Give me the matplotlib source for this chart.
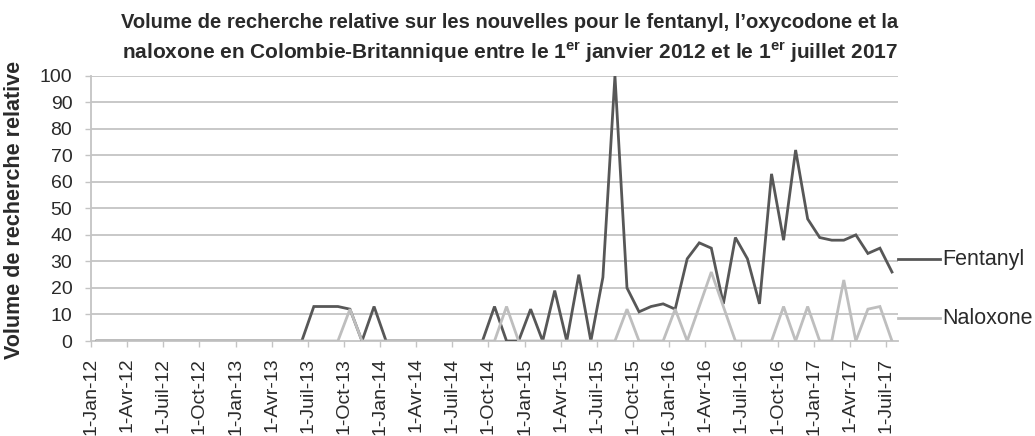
import numpy as np
import matplotlib
matplotlib.use("Agg")
import matplotlib.pyplot as plt
from matplotlib.lines import Line2D

# Monthly relative search volume, Jan 2012 .. Jul 2017 (67 months)
fentanyl_2012 = [0, 0, 0, 0, 0, 0, 0, 0, 0, 0, 0, 0]
fentanyl_2013 = [0, 0, 0, 0, 0, 0, 13, 13, 13, 12, 0, 13]
fentanyl_2014 = [0, 0, 0, 0, 0, 0, 0, 0, 0, 13, 0, 0]
fentanyl_2015 = [12, 0, 19, 0, 25, 0, 24, 100, 20, 11, 13, 14]
fentanyl_2016 = [12, 31, 37, 35, 14, 39, 31, 14, 63, 38, 72, 46]
fentanyl_2017 = [39, 38, 38, 40, 33, 35, 26]

naloxone_2012 = [0, 0, 0, 0, 0, 0, 0, 0, 0, 0, 0, 0]
naloxone_2013 = [0, 0, 0, 0, 0, 0, 0, 0, 0, 12, 0, 0]
naloxone_2014 = [0, 0, 0, 0, 0, 0, 0, 0, 0, 0, 13, 0]
naloxone_2015 = [0, 0, 0, 0, 0, 0, 0, 0, 12, 0, 0, 0]
naloxone_2016 = [12, 0, 13, 26, 13, 0, 0, 0, 0, 13, 0, 13]
naloxone_2017 = [0, 0, 23, 0, 12, 13, 0]

fentanyl = (fentanyl_2012 + fentanyl_2013 + fentanyl_2014 + fentanyl_2015
            + fentanyl_2016 + fentanyl_2017)
naloxone = (naloxone_2012 + naloxone_2013 + naloxone_2014 + naloxone_2015
            + naloxone_2016 + naloxone_2017)

tick_labels = ["1-Jan-12", "1-Avr-12", "1-Juil-12", "1-Oct-12",
               "1-Jan-13", "1-Avr-13", "1-Juil-13", "1-Oct-13",
               "1-Jan-14", "1-Avr-14", "1-Juil-14", "1-Oct-14",
               "1-Jan-15", "1-Avr-15", "1-Juil-15", "1-Oct-15",
               "1-Jan-16", "1-Avr-16", "1-Juil-16", "1-Oct-16",
               "1-Jan-17", "1-Avr-17", "1-Juil-17"]
series_names = ["Fentanyl", "Naloxone"]
y_ticks = [0, 10, 20, 30, 40, 50, 60, 70, 80, 90, 100]

title_line1 = "Volume de recherche relative sur les nouvelles pour le fentanyl, l\u2019oxycodone et la"
title_line2 = (r"naloxone en Colombie-Britannique entre le 1$^{\mathrm{er}}$ "
               r"janvier 2012 et le 1$^{\mathrm{er}}$ juillet 2017")
y_label = "Volume de recherche relative"

plt.rcParams['font.family'] = ['Liberation Sans', 'DejaVu Sans']
plt.rcParams['mathtext.fontset'] = 'custom'
plt.rcParams['mathtext.rm'] = 'Liberation Sans:bold'
plt.rcParams['mathtext.it'] = 'Liberation Sans:bold'
plt.rcParams['mathtext.bf'] = 'Liberation Sans:bold'

W, H = 1035, 436
fig = plt.figure(figsize=(W / 100, H / 100), dpi=100)
ax_l, ax_r, ax_t, ax_b = 91, 898, 75.7, 341
ax = fig.add_axes([ax_l / W, 1 - ax_b / H, (ax_r - ax_l) / W, (ax_b - ax_t) / H])

n = len(fentanyl)
x = np.arange(n) + 0.5

grid_c = "#c4c4c4"
dark = "#575757"
light = "#bebebe"
txt = "#2a2a2a"

for yv in y_ticks[1:]:
    ax.axhline(yv, color=grid_c, lw=1.3, zorder=1)

ax.plot(x, fentanyl, color=dark, lw=2.0, zorder=3, solid_joinstyle='miter')
ax.plot(x, naloxone, color=light, lw=2.0, zorder=4, solid_joinstyle='miter')

ax.set_xlim(0, n)
ax.set_ylim(0, 100)
ax.set_yticks(y_ticks)
ax.set_yticklabels([str(v) for v in y_ticks])
ax.set_xticks(np.arange(0, n, 3))
ax.set_xticklabels(tick_labels, rotation=90)

for s in ["top", "right"]:
    ax.spines[s].set_visible(False)
ax.spines["left"].set_color(grid_c)
ax.spines["left"].set_linewidth(1.3)
ax.spines["bottom"].set_color(grid_c)
ax.spines["bottom"].set_linewidth(1.3)
ax.spines["bottom"].set_zorder(2)

ax.tick_params(axis='y', length=4.5, width=1.0, color=grid_c, pad=9,
               labelsize=14, labelcolor=txt)
ax.tick_params(axis='x', length=4, width=1.0, color=grid_c, pad=8,
               labelsize=14, labelcolor=txt)

fig.text(15 / W, 1 - 210 / H, y_label, rotation=90, ha='center', va='center',
         fontsize=15.5, fontweight='bold', color=txt)

fig.text(510 / W, 1 - 22 / H, title_line1, ha='center', va='center',
         fontsize=14.5, fontweight='bold', color=txt)
fig.text(510 / W, 1 - 53 / H, title_line2, ha='center', va='center',
         fontsize=15.0, fontweight='bold', color=txt)

# legend
leg_y = [259, 318]
leg_c = [dark, light]
for name, yy, c in zip(series_names, leg_y, leg_c):
    fig.add_artist(Line2D([898 / W, 940 / W], [1 - yy / H, 1 - yy / H],
                          transform=fig.transFigure, color=c, lw=2.0))
    fig.text(942 / W, 1 - yy / H, name, ha='left', va='center',
             fontsize=15.5, color=txt)

fig.savefig("out.png", dpi=100)
